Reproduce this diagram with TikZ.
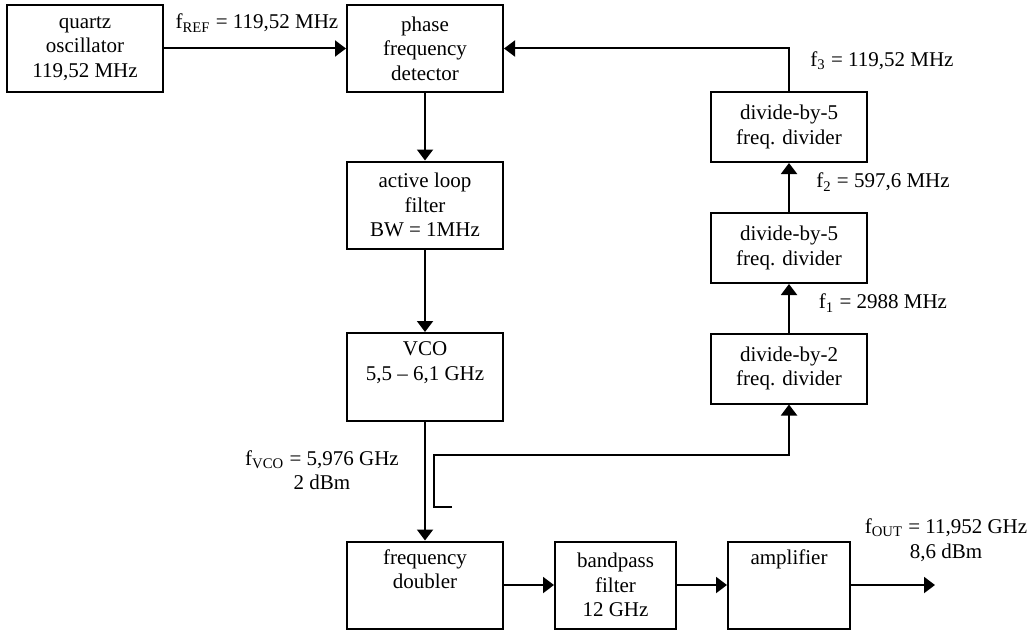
\documentclass[tikz,border=0pt]{standalone}
\usepackage{fontspec}
\setmainfont{Liberation Serif}
\usepackage{tikz}
\usetikzlibrary{arrows.meta}

\begin{document}
\begin{tikzpicture}[x=0.5pt,y=-0.5pt,
		block/.style={draw,line width=1pt,fill=white,align=center,inner sep=0pt,minimum width=78pt,minimum height=43.5pt},
		divider/.style={block,minimum height=35pt},
		wire/.style={line width=1pt,-{Triangle[length=5.5pt,width=8pt]}},
		every node/.style={font=\fontsize{10.5}{12.25}\selectfont}]
					\useasboundingbox (0,0) rectangle (1032,631);
					
					% centres of the blocks
					\coordinate (c1) at (85,48.5);
					\coordinate (c2) at (425,48.5);
					\coordinate (c3) at (425,205);
					\coordinate (c4) at (425,377);
					\coordinate (c5) at (425,585);
					\coordinate (c6) at (615.5,585);
					\coordinate (c7) at (789,585);
					\coordinate (c8) at (789,368.5);
					\coordinate (c9) at (789,248);
					\coordinate (c10) at (789,127);
					
					\node (quartz) at (c1) [block] {quartz\\oscillator\\119,52 MHz};
					\node (pfd) at (c2) [block] {phase\\frequency\\detector};
					\node (loop) at (c3) [block] {active loop\\filter\\BW = 1MHz};
					\node (vco) at (c4) [block,minimum height=44pt] {VCO\\5,5 -- 6,1 GHz\\\strut};
					\node (doubler) at (c5) [block] {frequency\\doubler\\\strut};
					\node (bandpass) at (c6) [block,minimum width=60.5pt] {bandpass\\filter\\12 GHz};
					\node (amp) at (c7) [block,minimum width=61pt] {amplifier\\\strut\\\strut};
					\node (div2) at (c8) [divider] {divide-by-2\\freq. divider};
					\node (div5a) at (c9) [divider] {divide-by-5\\freq. divider};
					\node (div5b) at (c10) [divider] {divide-by-5\\freq. divider};
					
					% free ends
					\coordinate (out) at (935,585);
					\coordinate (tap) at (452,507);
					\coordinate (tapa) at (434,507);
					\coordinate (tapb) at (434,455);
					
					\draw[wire] (quartz) -- (pfd);
					\draw[wire] (pfd) -- (loop);
					\draw[wire] (loop) -- (vco);
					\draw[wire] (vco) -- (doubler);
					\draw[wire] (doubler) -- (bandpass);
					\draw[wire] (bandpass) -- (amp);
					\draw[wire] (amp) -- (out);
					\draw[wire] (div2) -- (div5a);
					\draw[wire] (div5a) -- (div5b);
					\draw[wire] (div5b.north) |- (pfd.east);
					\draw[wire] (tap) -- (tapa) -- (tapb) -| (div2.south);
					
					\node (fref) at (257,23) {f\textsubscript{REF} = 119,52 MHz};
					\node (fvco) at (322,470) [align=center] {f\textsubscript{VCO} = 5,976 GHz\\2 dBm};
					\node (fout) at (946,540) [align=center] {f\textsubscript{OUT} = 11,952 GHz\\8,6 dBm};
					\node (f1) at (883,303) {f\textsubscript{1} = 2988 MHz};
					\node (f2) at (883,182) {f\textsubscript{2} = 597,6 MHz};
					\node (f3) at (882,61) {f\textsubscript{3} = 119,52 MHz};
					
				\end{tikzpicture}
\end{document}
